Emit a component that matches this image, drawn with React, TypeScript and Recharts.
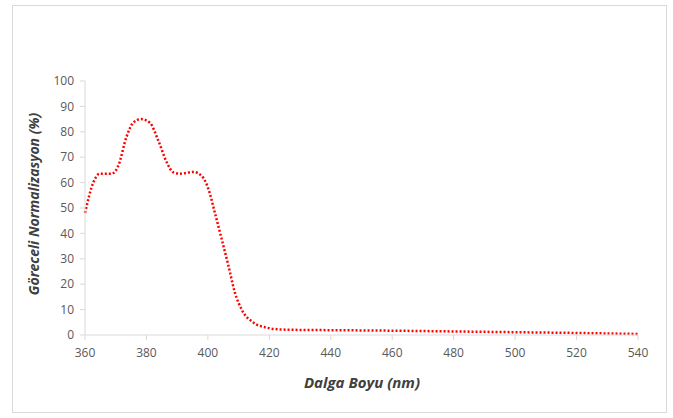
import { LineChart, Line, XAxis, YAxis } from "recharts";

// wavelength (nm) and relative normalisation (%)
const wavelengths = [
  360, 362.7, 364.8, 368.6, 370.8, 373.5, 375.7, 378.2, 381.1, 383.9, 386.6,
  388.8, 391, 395.3, 398, 400.2, 402.3, 404.5, 406.7, 408.8, 411, 414.8,
  419.1, 423.5, 430, 440, 460, 480, 500, 520, 540,
];
const intensity = [
  48, 60, 63.5, 63.5, 66.5, 78, 83.6, 85, 83.6, 76.4, 68, 64, 63.5, 64.2, 62.6,
  57.4, 48, 37.7, 27.2, 16.7, 10, 4.9, 2.9, 2.2, 2, 1.9, 1.7, 1.4, 1.1, 0.8,
  0.4,
];
const xTicks = [360, 380, 400, 420, 440, 460, 480, 500, 520, 540];
const yTicks = [0, 10, 20, 30, 40, 50, 60, 70, 80, 90, 100];

const data = wavelengths.map((nm, i) => ({ nm, value: intensity[i] }));

const font = "'Open Sans', 'Liberation Sans', sans-serif";
const tickStyle = { fill: "#595959", fontSize: 12, fontFamily: font };

const titleStyle = {
  position: "absolute" as const,
  whiteSpace: "nowrap" as const,
  fontFamily: font,
  fontWeight: "bold",
  fontStyle: "italic",
  color: "#404040",
};

export default function App() {
  return (
    <div style={{ position: "absolute", left: 0, top: 0, width: 673, height: 418, background: "#fff" }}>
      <div
        style={{
          position: "absolute",
          left: 12,
          top: 5,
          width: 655,
          height: 408,
          border: "1px solid #d9d9d9",
          boxSizing: "border-box",
        }}
      />
      <LineChart
        width={673}
        height={418}
        data={data}
        margin={{ top: 81, right: 35, left: 0, bottom: 0 }}
        style={{ position: "absolute", left: 0, top: 0 }}
      >
        <XAxis
          dataKey="nm"
          type="number"
          domain={[360, 540]}
          ticks={xTicks}
          height={83}
          stroke="#d9d9d9"
          tickSize={5}
          tickMargin={8}
          tick={tickStyle}
        />
        <YAxis
          type="number"
          domain={[0, 100]}
          ticks={yTicks}
          width={85}
          stroke="#d9d9d9"
          tickSize={5}
          tickMargin={6}
          tick={tickStyle}
        />
        <Line
          type="monotone"
          dataKey="value"
          stroke="#ff0000"
          strokeWidth={2.5}
          strokeDasharray="2 2"
          dot={false}
          isAnimationActive={false}
        />
      </LineChart>
      <div
        style={{
          ...titleStyle,
          left: 33,
          top: 204,
          fontSize: 14,
          transform: "translate(-50%, -50%) rotate(-90deg)",
        }}
      >
        Göreceli Normalizasyon (%)
      </div>
      <div
        style={{
          ...titleStyle,
          left: 362,
          top: 382,
          fontSize: 15,
          transform: "translate(-50%, -50%)",
        }}
      >
        Dalga Boyu (nm)
      </div>
    </div>
  );
}
